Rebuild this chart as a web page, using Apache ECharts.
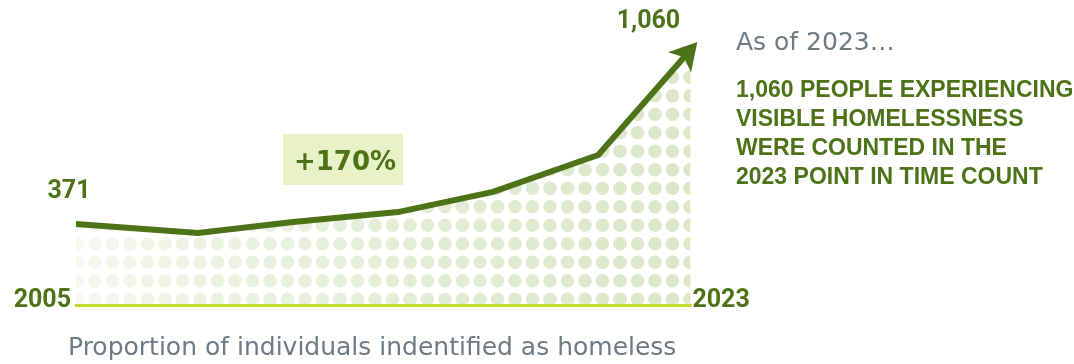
<!DOCTYPE html>
<html><head><meta charset="utf-8">
<script src="https://cdn.jsdelivr.net/npm/echarts@6/dist/echarts.min.js"></script>
<style>html,body{margin:0;padding:0;background:#fff}#c{width:1074px;height:364px}</style>
</head><body><div id="c"></div>
<script>
// ---- data ----
const years = [2005, 2008.57, 2011.36, 2014.43, 2017.22, 2020.30, 2023];
const counts = [371, 335, 379, 418, 498, 644, 1060];
const axisLabels = ['2005', '2023'];
const changeLabel = '+170%';
const introText = 'As of 2023…';
const calloutLines = ['1,060 PEOPLE EXPERIENCING', 'VISIBLE HOMELESSNESS', 'WERE COUNTED IN THE', '2023 POINT IN TIME COUNT'];
const footnote = 'Proportion of individuals indentified as homeless';

// ---- styles ----
const green = '#4d7217';
const gray = '#6f7b84';
const numFont = 'bold 25px Roboto';
const W = 1074, H = 364;

// dotted pattern fading left -> right
const pc = document.createElement('canvas');
pc.width = W; pc.height = H;
const g = pc.getContext('2d');
for (let x = 7.5; x < W + 10; x += 17.5) {
  const t = Math.min(1, Math.max(0, (x - 76) / (690 - 76)));
  const a = 0.24 + 0.76 * Math.pow(t, 0.65);
  g.fillStyle = 'rgba(220,230,201,' + a.toFixed(3) + ')';
  for (let y = 299.3; y > -10; y -= 18.5) {
    g.beginPath(); g.arc(x, y, 6.8, 0, Math.PI * 2); g.fill();
  }
}

const n = years.length;
function lineData(rot, off) {
  return years.map((x, i) => i === n - 1
    ? { value: [x, counts[i]], symbol: 'arrow', symbolSize: [23, 27], symbolRotate: rot, symbolOffset: off, itemStyle: { color: green } }
    : { value: [x, counts[i]], symbol: 'none' });
}

const chart = echarts.init(document.getElementById('c'), null, { renderer: 'canvas' });
const staticGraphics = [
  { type: 'rect', x: 283, y: 134, shape: { width: 120, height: 51 }, style: { fill: '#e9f1c6' }, z: 10 },
  { type: 'text', x: 345, y: 163, z: 11, style: { text: changeLabel, font: 'bold 26px "DejaVu Sans"', fill: green, align: 'center', verticalAlign: 'middle' } },
  { type: 'text', x: 736, y: 43.5, style: { text: introText, font: '25px "DejaVu Sans"', fill: gray, verticalAlign: 'middle' } }
].concat(calloutLines.map((t, i) => ({
  type: 'text', x: 736, y: 90.5 + 29 * i,
  style: { text: t, font: 'bold 23px "Liberation Sans"', fill: green, verticalAlign: 'middle' }
}))).concat([
  { type: 'text', x: 68, y: 348.5, style: { text: footnote, font: '25px "DejaVu Sans"', fill: gray, verticalAlign: 'middle' } }
]);

const option = {
  animation: false,
  grid: { left: 76, right: W - 690.4, top: 50, bottom: 59, containLabel: false, outerBoundsMode: 'none' },
  xAxis: {
    type: 'value', min: years[0], max: years[n - 1], z: 3,
    axisLine: { show: true, lineStyle: { color: '#c4da2c', width: 3 } },
    axisTick: { show: false }, splitLine: { show: false },
    axisLabel: {
      customValues: [years[0], years[n - 1]],
      formatter: v => (v === years[0] ? axisLabels[0] : axisLabels[1]),
      alignMinLabel: 'right', alignMaxLabel: 'left',
      verticalAlign: 'middle', margin: -4, padding: [0, 5, 0, 2],
      color: green, fontFamily: 'Roboto', fontWeight: 'bold', fontSize: 25
    }
  },
  yAxis: { type: 'value', min: 50, max: 1060, show: false },
  series: [
    {
      type: 'line', z: 2, showSymbol: true, data: lineData(-41, [0, 0]),
      lineStyle: { color: green, width: 6, join: 'miter' },
      itemStyle: { color: green },
      areaStyle: { origin: 'start', opacity: 1, color: { image: pc, repeat: 'no-repeat' } },
      silent: true
    }
  ],
  graphic: staticGraphics
};
chart.setOption(option);

// data-driven placement: arrow direction and value labels
const px = (x, y) => chart.convertToPixel({ gridIndex: 0 }, [x, y]);
const pA = px(years[n - 2], counts[n - 2]);
const pB = px(years[n - 1], counts[n - 1]);
const p0 = px(years[0], counts[0]);
const len = Math.hypot(pB[0] - pA[0], pB[1] - pA[1]);
const dir = [(pB[0] - pA[0]) / len, (pB[1] - pA[1]) / len];
const rot = -Math.atan2(dir[0], -dir[1]) * 180 / Math.PI;
const off = [dir[0] * 10.5, dir[1] * 10.5];
const fmt = v => v.toLocaleString('en-US');
chart.setOption({
  series: [{ data: lineData(rot, off) }],
  graphic: staticGraphics.concat([
    { type: 'text', x: p0[0] - 7, y: p0[1] - 32, z: 12, style: { text: fmt(counts[0]), font: numFont, fill: green, align: 'center', verticalAlign: 'middle' } },
    { type: 'text', x: pB[0] - 42, y: pB[1] - 28.5, z: 12, style: { text: fmt(counts[n - 1]), font: numFont, fill: green, align: 'center', verticalAlign: 'middle' } }
  ])
}, { replaceMerge: ['graphic'] });
</script>
</body></html>
